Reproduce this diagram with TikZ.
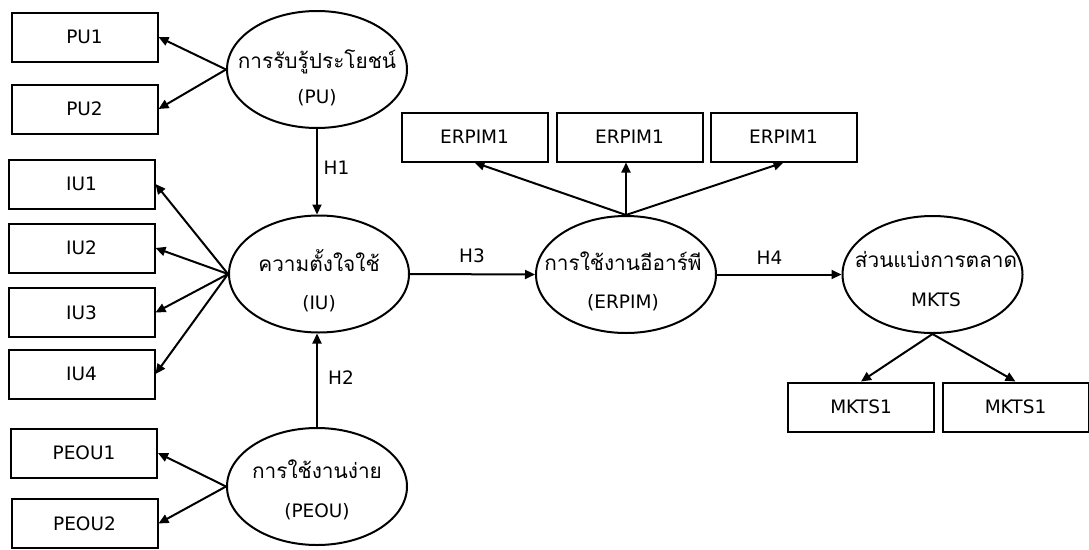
\documentclass[tikz,border=0pt]{standalone}
\usepackage{fontspec}
\setmainfont{DejaVu Sans}
\newfontfamily\thaifont[Script=Thai]{Loma}
\usetikzlibrary{arrows.meta,shapes.geometric}
\begin{document}
\begin{tikzpicture}[x=1pt,y=-1pt,
  box/.style={draw, line width=2pt, minimum width=146pt, minimum height=49pt, inner sep=0pt, font=\fontsize{18.5}{20}\selectfont},
  latent/.style={draw, ellipse, line width=2pt, minimum width=180pt, minimum height=117pt, inner sep=0pt},
  th/.style={font=\thaifont\fontsize{20.8}{24}\selectfont, inner sep=0pt},
  lat/.style={font=\fontsize{18.5}{20}\selectfont, inner sep=0pt},
  arr/.style={line width=2pt, -{Triangle[length=10pt,width=9pt]}}]
\useasboundingbox[fill=white] (0,0) rectangle (1089,549);
% boxes
\node[box] (pu1) at (84.5,37) {PU1};
\node[box] (pu2) at (84.5,109) {PU2};
\node[box] (iu1) at (81.5,184) {IU1};
\node[box] (iu2) at (81.5,248) {IU2};
\node[box] (iu3) at (81.5,312.5) {IU3};
\node[box] (iu4) at (81.5,374) {IU4};
\node[box] (pe1) at (84,453) {PEOU1};
\node[box] (pe2) at (84.5,523.5) {PEOU2};
\node[box] (er1) at (474.5,137) {ERPIM1};
\node[box] (er2) at (629.5,137) {ERPIM1};
\node[box] (er3) at (783.5,137) {ERPIM1};
\node[box] (mk1) at (861,407) {MKTS1};
\node[box] (mk2) at (1015.5,407) {MKTS1};
% latent variables
\node[latent] (pu) at (317,69.5) {};
\node[latent] (iu) at (319,274) {};
\node[latent] (peou) at (317,486.5) {};
\node[latent] (erpim) at (626,274.5) {};
\node[latent] (mkts) at (932.5,274.5) {};
% texts in ellipses
\node[th] (put) at (317,62) {การรับรู้ประโยชน์};
\node[lat] (pul) at (317,98) {(PU)};
\node[th] (iut) at (319,261) {ความตั้งใจใช้};
\node[lat] (iul) at (319,304) {(IU)};
\node[th] (peout) at (317,469) {การใช้งานง่าย};
\node[lat] (peoul) at (317,512) {(PEOU)};
\node[th] (erpimt) at (623,261) {การใช้งานอีอาร์พี};
\node[lat] (erpiml) at (623,303) {(ERPIM)};
\node[th] (mktst) at (936,259) {ส่วนแบ่งการตลาด};
\node[lat] (mktsl) at (936,300) {MKTS};
% connectors
\draw[arr] (pu.west) -- (pu1.east);
\draw[arr] (pu.west) -- (pu2.east);
\draw[arr] (iu.west) -- (iu1.east);
\draw[arr] (iu.west) -- (iu2.east);
\draw[arr] (iu.west) -- (iu3.east);
\draw[arr] (iu.west) -- (iu4.east);
\draw[arr] (peou.west) -- (pe1.east);
\draw[arr] (peou.west) -- (pe2.east);
\draw[arr] (pu.south) -- (pu.south |- iu.north);
\draw[arr] (peou.north) -- (peou.north |- iu.south);
\draw[arr] (iu.east) -- (erpim.west);
\draw[arr] (erpim.east) -- (mkts.west);
\draw[arr] (erpim.north) -- (er1.south);
\draw[arr] (erpim.north) -- (erpim.north |- er2.south);
\draw[arr] (erpim.north) -- (er3.south);
\draw[arr] (mkts.south) -- (mk1.north);
\draw[arr] (mkts.south) -- (mk2.north);
% hypothesis labels
\node[lat] (h1) at (336.5,168) {H1};
\node[lat] (h2) at (341,378) {H2};
\node[lat] (h3) at (472,256) {H3};
\node[lat] (h4) at (769.5,258) {H4};
\end{tikzpicture}
\end{document}
